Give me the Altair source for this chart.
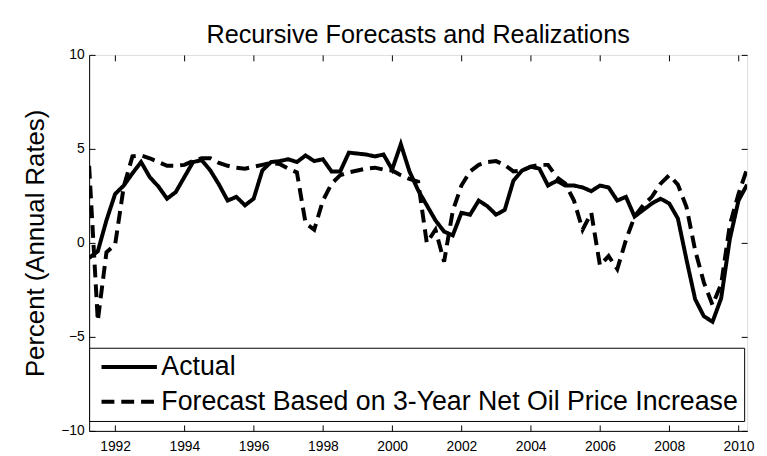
import altair as alt
import pandas as pd

# quarterly dates 1991Q2 .. 2010Q2 (decimal years)
years_q = [1991.25 + 0.25 * i for i in range(77)]

actual = [
    -0.8, -0.45, 1.2, 2.6, 3.05, 3.7, 4.3, 3.5, 3.0, 2.35, 2.7, 3.5,
    4.3, 4.4, 3.85, 3.1, 2.25, 2.45, 2.0, 2.35, 3.85, 4.3, 4.35, 4.45,
    4.3, 4.65, 4.35, 4.45, 3.8, 3.8, 4.8, 4.75, 4.7, 4.6, 4.7, 3.9,
    5.25, 3.8, 2.8, 2.0, 1.2, 0.6, 0.4, 1.6, 1.5, 2.25, 1.95, 1.5,
    1.75, 3.3, 3.85, 4.05, 3.95, 3.05, 3.3, 3.05, 3.05, 2.95, 2.75, 3.05,
    2.95, 2.25, 2.45, 1.4, 1.75, 2.1, 2.35, 2.1, 1.3, -0.9, -3.0, -3.9,
    -4.2, -2.95, 0.2, 2.25, 3.1,
]

forecast = [
    4.1, -4.15, -0.5, -0.1, 3.0, 4.6, 4.65, 4.5, 4.3, 4.1, 4.1, 4.15,
    4.35, 4.5, 4.5, 4.25, 4.1, 4.0, 3.95, 4.05, 4.15, 4.25, 4.2, 3.95,
    3.75, 1.05, 0.7, 2.25, 3.15, 3.6, 3.75, 3.85, 3.95, 4.0, 3.9, 3.85,
    3.6, 3.4, 3.25, 0.0, 0.7, -1.0, 1.7, 3.05, 3.8, 4.15, 4.3, 4.35,
    4.15, 3.8, 3.85, 4.05, 4.15, 4.15, 3.5, 3.15, 2.25, 0.7, 1.6, -1.2,
    -0.7, -1.4, 0.15, 1.4, 2.0, 2.45, 3.15, 3.6, 3.1, 1.9, -0.4, -2.1,
    -3.3, -2.2, 0.95, 2.6, 3.95,
]

series_names = ["Actual", "Forecast Based on 3-Year Net Oil Price Increase"]
x_ticks = [1992, 1994, 1996, 1998, 2000, 2002, 2004, 2006, 2008, 2010]
y_ticks = [-10, -5, 0, 5, 10]

rows = []
for t, a in zip(years_q, actual):
    rows.append({"t": t, "v": a, "series": series_names[0]})
for t, f in zip(years_q, forecast):
    rows.append({"t": t, "v": f, "series": series_names[1]})
df = pd.DataFrame(rows)

W, H = 665, 380
FONT = "Liberation Sans"
TICK = 6

x_scale = alt.Scale(domain=[1991.25, 2010.25], nice=False, zero=False)
y_scale = alt.Scale(domain=[-10, 10], nice=False, zero=False)

base = alt.Chart(df)

lines = base.mark_line(strokeWidth=4, color="black", clip=True).encode(
    x=alt.X("t:Q", scale=x_scale,
            axis=alt.Axis(orient="bottom", values=x_ticks, format="d", tickSize=0,
                          labelPadding=9, labelFontSize=14, labelFont=FONT,
                          labelColor="black", domain=True, domainColor="black",
                          grid=False, title=None)),
    y=alt.Y("v:Q", scale=y_scale,
            axis=alt.Axis(orient="left", values=y_ticks, tickSize=0,
                          labelPadding=5, labelFontSize=14, labelFont=FONT,
                          labelColor="black", domain=True, domainColor="black",
                          grid=False, title="Percent (Annual Rates)",
                          titleFont=FONT, titleFontSize=26, titleFontWeight="normal",
                          titleColor="black", titlePadding=12)),
    strokeDash=alt.StrokeDash(
        "series:N",
        scale=alt.Scale(domain=series_names, range=[[1, 0], [13, 7]]),
        legend=alt.Legend(orient="none", legendX=0, legendY=296, title=None,
                          symbolType="M-0.7,0H4.9", symbolSize=400, symbolStrokeWidth=4,
                          symbolStrokeColor="black", labelFontSize=27, labelFont=FONT,
                          labelColor="black", labelLimit=0, labelOffset=40,
                          strokeColor="black", fillColor="white", padding=6,
                          rowPadding=7),
    ),
)

ticks_a = base.mark_line(opacity=0).encode(
    x=alt.X("t:Q", scale=x_scale,
            axis=alt.Axis(orient="top", offset=-H, values=x_ticks, labels=False,
                          tickSize=TICK, tickColor="black", domain=False, grid=False, title=None)),
    y=alt.Y("v:Q", scale=y_scale,
            axis=alt.Axis(orient="right", offset=-W, values=y_ticks, labels=False,
                          tickSize=TICK, tickColor="black", domain=False, grid=False, title=None)),
    detail="series:N",
)

ticks_b = base.mark_line(opacity=0).encode(
    x=alt.X("t:Q", scale=x_scale,
            axis=alt.Axis(orient="bottom", offset=-H, values=x_ticks, labels=False,
                          tickSize=TICK, tickColor="black", domain=False, grid=False, title=None)),
    y=alt.Y("v:Q", scale=y_scale,
            axis=alt.Axis(orient="left", offset=-W, values=y_ticks, labels=False,
                          tickSize=TICK, tickColor="black", domain=False, grid=False, title=None)),
    detail="series:N",
)

chart = alt.layer(lines, ticks_a, ticks_b).resolve_axis(
    x="independent", y="independent"
).properties(
    width=W, height=H,
    title=alt.TitleParams("Recursive Forecasts and Realizations", fontSize=25.5, font=FONT,
                          fontWeight="normal", color="black", anchor="middle", offset=0),
    padding={"left": 82, "top": 45, "right": 12, "bottom": 23},
    autosize=alt.AutoSizeParams(type="none"),
).configure_view(stroke="black", strokeWidth=1).configure(background="white")

chart.save("out.html", embed_options={"renderer": "svg", "actions": False})
